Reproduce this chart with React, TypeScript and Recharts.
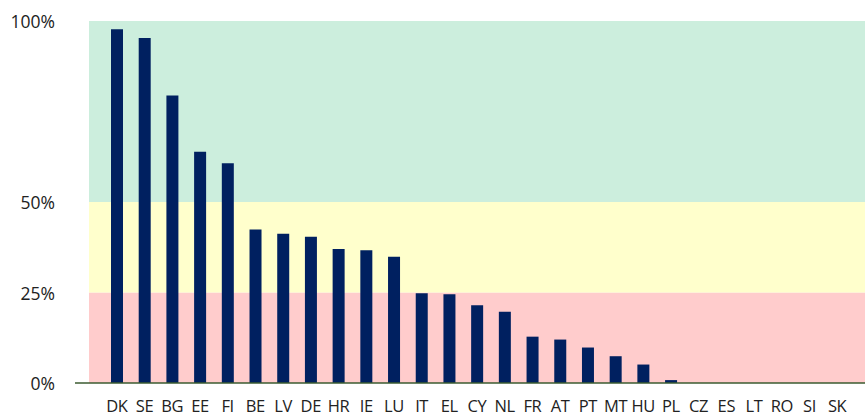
import React from 'react';
import { ComposedChart, Bar, XAxis, YAxis, ReferenceArea } from 'recharts';

const categories = ['DK','SE','BG','EE','FI','BE','LV','DE','HR','IE','LU','IT','EL','CY','NL','FR','AT','PT','MT','HU','PL','CZ','ES','LT','RO','SI','SK'];
const values = [97.7, 95.3, 79.4, 63.9, 60.7, 42.4, 41.2, 40.4, 37.0, 36.7, 34.9, 24.8, 24.5, 21.5, 19.7, 12.8, 12.0, 9.8, 7.4, 5.1, 0.8, 0, 0, 0, 0, 0, 0];
const yTicks = [0, 25, 50, 100];
const bandLimits = [0, 25, 50, 100];
const bandColors = ['#FFCCCC', '#FFFFCC', '#CCEEDD'];

const data = categories.map((c, i) => ({ name: c, value: values[i] }));

const FONT = '"Open Sans", sans-serif';
const AXIS_COLOR = '#3B5B30';

const YTick = (props: any) => {
  const { x, y, payload } = props;
  return (
    <g>
      <text x={x - 34} y={y} textAnchor="end" dominantBaseline="central" fontFamily={FONT} fontSize={17.5} fill="#222">
        {payload.value}%
      </text>
      {payload.value === 0 && (
        <line x1={x - 14} x2={x} y1={y} y2={y} stroke={AXIS_COLOR} strokeWidth={1.5} />
      )}
    </g>
  );
};

const XTick = (props: any) => {
  const { x, y, payload } = props;
  return (
    <text x={x} y={y + 21} textAnchor="middle" fontFamily={FONT} fontSize={16.5} letterSpacing={-0.4} fill="#222">
      {payload.value}
    </text>
  );
};

export default function App() {
  return (
    <div style={{ position: 'absolute', left: 0, top: 0 }}>
      <ComposedChart width={865} height={419} data={data} margin={{ top: 21, right: 0, bottom: 0, left: 0 }}>
        <XAxis xAxisId="bg" dataKey="name" hide height={36} />
        {bandColors.map((col, i) => (
          <ReferenceArea key={i} xAxisId="bg" y1={bandLimits[i]} y2={bandLimits[i + 1]} fill={col} fillOpacity={1} stroke="none" ifOverflow="hidden" />
        ))}
        <XAxis
          dataKey="name"
          interval={0}
          height={36}
          padding={{ left: 14, right: 14 }}
          tickLine={false}
          axisLine={{ stroke: AXIS_COLOR, strokeWidth: 1.5 }}
          tick={<XTick />}
        />
        <YAxis
          width={89}
          domain={[0, 100]}
          ticks={yTicks}
          axisLine={false}
          tickLine={false}
          tickSize={0}
          tickMargin={0}
          tick={<YTick />}
        />
        <Bar dataKey="value" fill="#002060" barSize={12} isAnimationActive={false} />
      </ComposedChart>
    </div>
  );
}
